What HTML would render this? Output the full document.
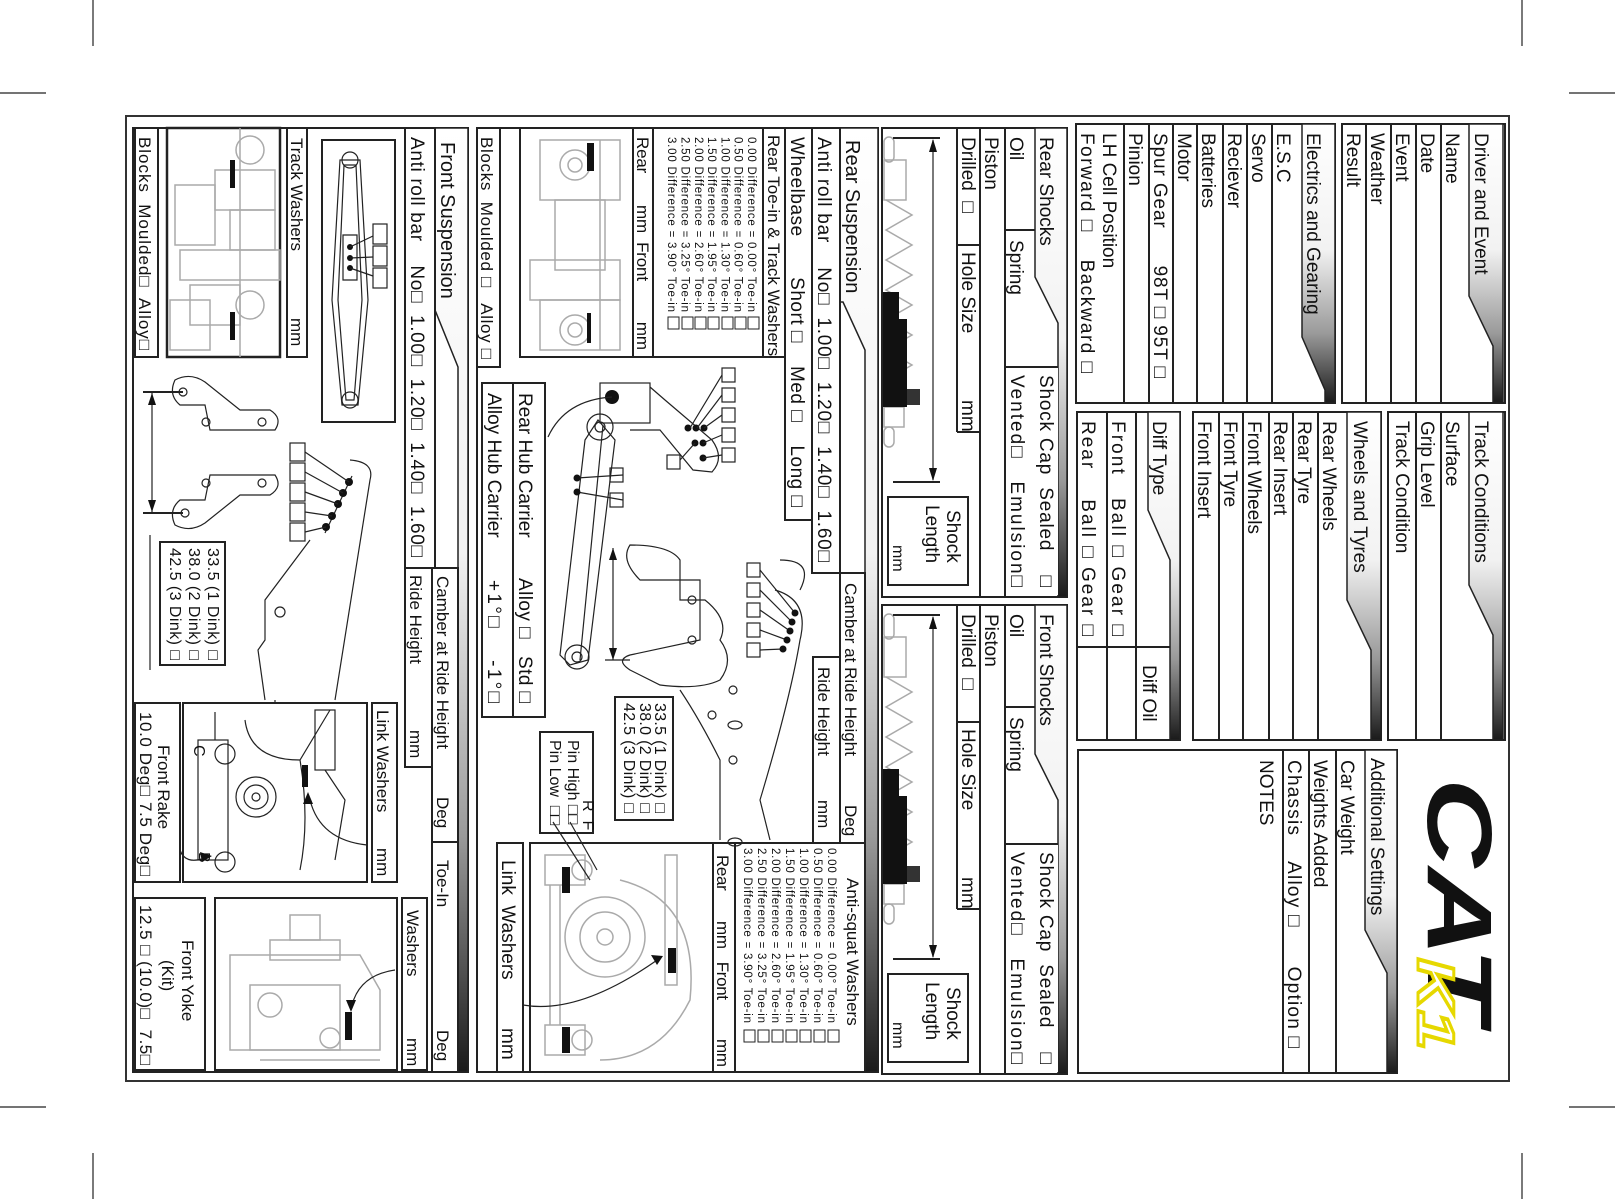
<!DOCTYPE html>
<html><head><meta charset="utf-8"><style>
html,body{margin:0;padding:0;background:#fff}
svg{display:block}
text{font-family:"Liberation Sans",Arial,"DejaVu Sans",sans-serif;font-size:19px;fill:#111;white-space:pre}
.s,.s text{font-size:17px}.xs text{font-size:11.5px}.m,.m text{font-size:16px}
.b{fill:#fff;stroke:#222;stroke-width:2}
.l{stroke:#222;stroke-width:2;fill:none}
.g{stroke:#aaa;stroke-width:1.5;fill:none}
.d{stroke:#222;stroke-width:1.2;fill:none}
</style></head><body>
<svg width="1615" height="1199" viewBox="0 0 1615 1199" xmlns="http://www.w3.org/2000/svg">
<defs>
<linearGradient id="hg" x1="0" y1="0" x2="0" y2="1">
<stop offset="0" stop-color="#fff"/><stop offset="0.45" stop-color="#f2f2f2"/><stop offset="0.75" stop-color="#9a9a9a"/><stop offset="1" stop-color="#1a1a1a"/></linearGradient>
</defs>
<g stroke="#222" stroke-width="1.2">
<line x1="93" y1="0" x2="93" y2="46"/><line x1="0" y1="93" x2="46" y2="93"/>
<line x1="1522" y1="0" x2="1522" y2="46"/><line x1="1569" y1="93" x2="1615" y2="93"/>
<line x1="93" y1="1153" x2="93" y2="1199"/><line x1="0" y1="1107" x2="46" y2="1107"/>
<line x1="1522" y1="1153" x2="1522" y2="1199"/><line x1="1569" y1="1107" x2="1615" y2="1107"/>
</g>
<rect x="126" y="116" width="1383" height="965" fill="none" stroke="#333" stroke-width="2"/>

<!-- Driver and Event -->
<rect class="b" x="1342" y="124" width="163" height="279"/>
<polygon points="1469,124 1503,124 1503,403 1493,403 1493,346 1469,296" fill="url(#hg)" stroke="#222" stroke-width="1.5"/>
<g class="l"><line x1="1366" y1="124" x2="1366" y2="403"/><line x1="1391" y1="124" x2="1391" y2="403"/><line x1="1416" y1="124" x2="1416" y2="403"/><line x1="1441" y1="124" x2="1441" y2="403"/></g>
<text transform="translate(1475,133) rotate(90)">Driver and Event</text>
<text transform="translate(1446,133) rotate(90)">Name</text>
<text transform="translate(1421,133) rotate(90)">Date</text>
<text transform="translate(1396,133) rotate(90)">Event</text>
<text transform="translate(1371,133) rotate(90)">Weather</text>
<text transform="translate(1347,133) rotate(90)">Result</text>

<!-- Track Conditions -->
<rect class="b" x="1388" y="412" width="117" height="328"/>
<polygon points="1469,412 1503,412 1503,740 1493,740 1493,635 1469,585" fill="url(#hg)" stroke="#222" stroke-width="1.5"/>
<g class="l"><line x1="1416" y1="412" x2="1416" y2="740"/><line x1="1441" y1="412" x2="1441" y2="740"/></g>
<text transform="translate(1475,421) rotate(90)">Track Conditions</text>
<text transform="translate(1446,421) rotate(90)">Surface</text>
<text transform="translate(1421,421) rotate(90)">Grip Level</text>
<text transform="translate(1396,421) rotate(90)">Track Condition</text>

<!-- Electrics -->
<rect class="b" x="1076" y="124" width="259" height="279"/>
<polygon points="1302,124 1335,124 1335,403 1325,403 1325,390 1302,337" fill="url(#hg)" stroke="#222" stroke-width="1.5"/>
<g class="l"><line x1="1124" y1="124" x2="1124" y2="403"/><line x1="1149" y1="124" x2="1149" y2="403"/><line x1="1173" y1="124" x2="1173" y2="403"/><line x1="1197" y1="124" x2="1197" y2="403"/><line x1="1223" y1="124" x2="1223" y2="403"/><line x1="1247" y1="124" x2="1247" y2="403"/><line x1="1272" y1="124" x2="1272" y2="403"/></g>
<text transform="translate(1307,133) rotate(90)">Electrics and Gearing</text>
<text transform="translate(1277,133) rotate(90)">E.S.C</text>
<text transform="translate(1252,133) rotate(90)">Servo</text>
<text transform="translate(1228,133) rotate(90)">Reciever</text>
<text transform="translate(1202,133) rotate(90)">Batteries</text>
<text transform="translate(1178,133) rotate(90)">Motor</text>
<text transform="translate(1154,133) rotate(90)" textLength="245" lengthAdjust="spacing">Spur Gear      98T □ 95T □</text>
<text transform="translate(1129,133) rotate(90)">Pinion</text>
<text transform="translate(1103,133) rotate(90)">LH Cell Position</text>
<text transform="translate(1081,133) rotate(90)" textLength="240" lengthAdjust="spacing">Forward □    Backward □</text>

<!-- Wheels -->
<rect class="b" x="1193" y="412" width="188" height="328"/>
<polygon points="1347,412 1381,412 1381,740 1371,740 1371,650 1347,600" fill="url(#hg)" stroke="#222" stroke-width="1.5"/>
<g class="l"><line x1="1219" y1="412" x2="1219" y2="740"/><line x1="1243" y1="412" x2="1243" y2="740"/><line x1="1269" y1="412" x2="1269" y2="740"/><line x1="1293" y1="412" x2="1293" y2="740"/><line x1="1318" y1="412" x2="1318" y2="740"/></g>
<text transform="translate(1354,421) rotate(90)">Wheels and Tyres</text>
<text transform="translate(1323,421) rotate(90)">Rear Wheels</text>
<text transform="translate(1298,421) rotate(90)">Rear Tyre</text>
<text transform="translate(1274,421) rotate(90)">Rear Insert</text>
<text transform="translate(1248,421) rotate(90)">Front Wheels</text>
<text transform="translate(1224,421) rotate(90)">Front Tyre</text>
<text transform="translate(1198,421) rotate(90)">Front Insert</text>

<!-- Diff -->
<rect class="b" x="1077" y="412" width="103" height="328"/>
<polygon points="1148,412 1180,412 1180,740 1170,740 1170,560 1148,510" fill="url(#hg)" stroke="#222" stroke-width="1.5"/>
<g class="l"><line x1="1107" y1="412" x2="1107" y2="740"/><line x1="1136" y1="412" x2="1136" y2="740"/><line x1="1077" y1="647" x2="1170" y2="647"/></g>
<text transform="translate(1153,421) rotate(90)">Diff Type</text>
<text transform="translate(1143,665) rotate(90)">Diff Oil</text>
<text transform="translate(1112,421) rotate(90)" textLength="215" lengthAdjust="spacing">Front   Ball □ Gear □</text>
<text transform="translate(1082,421) rotate(90)" textLength="215" lengthAdjust="spacing">Rear    Ball □ Gear □</text>

<!-- Additional -->
<rect class="b" x="1078" y="750" width="319" height="323"/>
<polygon points="1365,750 1397,750 1397,1073 1387,1073 1387,973 1365,930" fill="url(#hg)" stroke="#222" stroke-width="1.5"/>
<g class="l"><line x1="1283" y1="750" x2="1283" y2="1073"/><line x1="1309" y1="750" x2="1309" y2="1073"/><line x1="1336" y1="750" x2="1336" y2="1073"/></g>
<text transform="translate(1371,758) rotate(90)">Additional Settings</text>
<text transform="translate(1341,760) rotate(90)">Car Weight</text>
<text transform="translate(1314,760) rotate(90)">Weights Added</text>
<text transform="translate(1288,760) rotate(90)" textLength="288" lengthAdjust="spacing">Chassis    Alloy □      Option □</text>
<text transform="translate(1260,760) rotate(90)">NOTES</text>

<!-- logo -->
<g transform="translate(1428,778) rotate(90)">
<text x="0" y="0" textLength="245" lengthAdjust="spacingAndGlyphs" style="font-size:92px;font-weight:bold;font-style:italic;fill:#111;stroke:#fff;stroke-width:3;paint-order:stroke">CAT</text>
</g>
<g transform="translate(1418,958) rotate(90)">
<text x="0" y="0" textLength="92" lengthAdjust="spacingAndGlyphs" style="font-size:52px;font-weight:bold;font-style:italic;fill:#fff;stroke:#e6d800;stroke-width:3">K1</text>
</g>

<!-- Shocks -->
<g>
<rect class="b" x="882" y="128" width="185" height="469"/>
<polygon points="1035,128 1067,128 1067,597 1058,597 1058,323 1035,277" fill="url(#hg)" stroke="#222" stroke-width="1.5"/>
<rect x="1005" y="367" width="53" height="228" fill="#fff"/>
<g class="l"><line x1="1005" y1="128" x2="1005" y2="597"/><line x1="980" y1="128" x2="980" y2="597"/><line x1="957" y1="128" x2="957" y2="432"/><line x1="957" y1="432" x2="980" y2="432"/><line x1="1005" y1="230" x2="1035" y2="230"/><line x1="1005" y1="367" x2="1058" y2="367"/><line x1="957" y1="245" x2="980" y2="245"/></g>
<text transform="translate(1040,137) rotate(90)">Rear Shocks</text>
<text transform="translate(1010,137) rotate(90)">Oil</text>
<text transform="translate(1010,240) rotate(90)">Spring</text>
<text transform="translate(985,137) rotate(90)">Piston</text>
<text transform="translate(962,137) rotate(90)">Drilled  □</text>
<text transform="translate(962,252) rotate(90)">Hole Size</text>
<text transform="translate(962,400) rotate(90)">mm</text>
<text transform="translate(1040,375) rotate(90)" textLength="212" lengthAdjust="spacing">Shock Cap  Sealed    □</text>
<text transform="translate(1011,375) rotate(90)" textLength="212" lengthAdjust="spacing">Vented□   Emulsion□</text>
<g class="g" stroke="#888">
<rect x="884" y="137" width="10" height="25" rx="5"/>
<rect x="884" y="160" width="22" height="40"/>
<path d="M886 200 L912 215 L886 230 L912 245 L886 260 L912 275 L886 290 L912 305 L886 320 L912 335 L886 350 L912 365 L886 380"/>
<rect x="884" y="407" width="20" height="20"/>
<rect x="884" y="427" width="10" height="20" rx="5"/>
</g>
<rect x="883" y="292" width="16" height="27" fill="#111"/>
<rect x="883" y="319" width="24" height="88" fill="#111"/>
<rect x="907" y="389" width="13" height="16" fill="#333"/>
<line x1="893" y1="138" x2="940" y2="138" class="l"/><line x1="893" y1="482" x2="940" y2="482" class="l"/>
<line x1="933" y1="140" x2="933" y2="480" class="d"/>
<polygon points="933,139 929,152 937,152" fill="#111"/><polygon points="933,481 929,468 937,468" fill="#111"/>
<rect class="b" x="888" y="497" width="80" height="88" stroke-width="1.5"/>
<text transform="translate(947,510) rotate(90)">Shock</text>
<text transform="translate(926,505) rotate(90)">Length</text>
<text transform="translate(893,545) rotate(90)" class="m">mm</text>
</g>
<g transform="translate(0,477)">
<rect class="b" x="882" y="128" width="185" height="469"/>
<polygon points="1035,128 1067,128 1067,597 1058,597 1058,323 1035,277" fill="url(#hg)" stroke="#222" stroke-width="1.5"/>
<rect x="1005" y="367" width="53" height="228" fill="#fff"/>
<g class="l"><line x1="1005" y1="128" x2="1005" y2="597"/><line x1="980" y1="128" x2="980" y2="597"/><line x1="957" y1="128" x2="957" y2="432"/><line x1="957" y1="432" x2="980" y2="432"/><line x1="1005" y1="230" x2="1035" y2="230"/><line x1="1005" y1="367" x2="1058" y2="367"/><line x1="957" y1="245" x2="980" y2="245"/></g>
<text transform="translate(1040,137) rotate(90)">Front Shocks</text>
<text transform="translate(1010,137) rotate(90)">Oil</text>
<text transform="translate(1010,240) rotate(90)">Spring</text>
<text transform="translate(985,137) rotate(90)">Piston</text>
<text transform="translate(962,137) rotate(90)">Drilled  □</text>
<text transform="translate(962,252) rotate(90)">Hole Size</text>
<text transform="translate(962,400) rotate(90)">mm</text>
<text transform="translate(1040,375) rotate(90)" textLength="212" lengthAdjust="spacing">Shock Cap  Sealed    □</text>
<text transform="translate(1011,375) rotate(90)" textLength="212" lengthAdjust="spacing">Vented□   Emulsion□</text>
<g class="g" stroke="#888">
<rect x="884" y="137" width="10" height="25" rx="5"/>
<rect x="884" y="160" width="22" height="40"/>
<path d="M886 200 L912 215 L886 230 L912 245 L886 260 L912 275 L886 290 L912 305 L886 320 L912 335 L886 350 L912 365 L886 380"/>
<rect x="884" y="407" width="20" height="20"/>
<rect x="884" y="427" width="10" height="20" rx="5"/>
</g>
<rect x="883" y="292" width="16" height="27" fill="#111"/>
<rect x="883" y="319" width="24" height="88" fill="#111"/>
<rect x="907" y="389" width="13" height="16" fill="#333"/>
<line x1="893" y1="138" x2="940" y2="138" class="l"/><line x1="893" y1="482" x2="940" y2="482" class="l"/>
<line x1="933" y1="140" x2="933" y2="480" class="d"/>
<polygon points="933,139 929,152 937,152" fill="#111"/><polygon points="933,481 929,468 937,468" fill="#111"/>
<rect class="b" x="888" y="497" width="80" height="88" stroke-width="1.5"/>
<text transform="translate(947,510) rotate(90)">Shock</text>
<text transform="translate(926,505) rotate(90)">Length</text>
<text transform="translate(893,545) rotate(90)" class="m">mm</text>
</g>

<!-- Rear Suspension -->
<rect class="b" x="477" y="128" width="401" height="944"/>
<polygon points="840,128 878,128 878,1072 865,1072 865,350 843,302 840,302" fill="url(#hg)" stroke="#222" stroke-width="1.5"/>
<text transform="translate(846,140) rotate(90)" style="font-size:20px">Rear Suspension</text>
<rect class="b" x="812" y="128" width="28" height="445"/>
<text transform="translate(818,137) rotate(90)" textLength="425" lengthAdjust="spacing">Anti roll bar    No□  1.00□  1.20□  1.40□  1.60□</text>
<rect class="b" x="785" y="128" width="27" height="392"/>
<text transform="translate(791,137) rotate(90)" textLength="370" lengthAdjust="spacing">Wheelbase       Short □    Med □    Long □</text>
<rect class="b" x="520" y="128" width="265" height="229"/>
<g class="l"><line x1="763" y1="128" x2="763" y2="357"/><line x1="653" y1="128" x2="653" y2="357"/><line x1="633" y1="128" x2="633" y2="357"/></g>
<text transform="translate(768,135) rotate(90)" class="s">Rear Toe-in &amp; Track Washers</text>
<g class="xs">
<text transform="translate(748,137) rotate(90)" textLength="175">0.00 Difference = 0.00° Toe-in</text>
<text transform="translate(734.7,137) rotate(90)" textLength="175">0.50 Difference = 0.60° Toe-in</text>
<text transform="translate(721.4,137) rotate(90)" textLength="175">1.00 Difference = 1.30° Toe-in</text>
<text transform="translate(708.1,137) rotate(90)" textLength="175">1.50 Difference = 1.95° Toe-in</text>
<text transform="translate(694.8,137) rotate(90)" textLength="175">2.00 Difference = 2.60° Toe-in</text>
<text transform="translate(681.5,137) rotate(90)" textLength="175">2.50 Difference = 3.25° Toe-in</text>
<text transform="translate(668.2,137) rotate(90)" textLength="175">3.00 Difference = 3.90° Toe-in</text>
</g>
<g fill="none" stroke="#222" stroke-width="1">
<rect x="748" y="317" width="11" height="12"/><rect x="735" y="317" width="11" height="12"/><rect x="722" y="317" width="11" height="12"/><rect x="708" y="317" width="11" height="12"/><rect x="695" y="317" width="11" height="12"/><rect x="682" y="317" width="11" height="12"/><rect x="668" y="317" width="11" height="12"/>
</g>
<text transform="translate(637,137) rotate(90)" class="s" textLength="213" lengthAdjust="spacing">Rear       mm  Front         mm</text>
<g class="g">
<rect x="540" y="140" width="80" height="60"/><circle cx="575" cy="165" r="15"/><circle cx="575" cy="165" r="7"/>
<rect x="555" y="200" width="50" height="70"/><rect x="530" y="260" width="90" height="40"/>
<rect x="540" y="300" width="80" height="50"/><circle cx="575" cy="330" r="15"/><circle cx="575" cy="330" r="7"/>
<line x1="600" y1="140" x2="600" y2="350"/>
</g>
<rect x="587" y="143" width="7" height="28" fill="#111"/><rect x="587" y="313" width="4" height="30" fill="#111"/>
<rect class="b" x="477" y="128" width="23" height="239"/>
<text transform="translate(481,137) rotate(90)" class="s" textLength="222" lengthAdjust="spacing">Blocks  Moulded □   Alloy □</text>
<rect class="b" x="482" y="383" width="63" height="334"/>
<line class="l" x1="513" y1="383" x2="513" y2="717"/>
<text transform="translate(519,393) rotate(90)">Rear Hub Carrier</text>
<text transform="translate(519,578) rotate(90)" textLength="125" lengthAdjust="spacing">Alloy □   Std □</text>
<text transform="translate(488,393) rotate(90)">Alloy Hub Carrier</text>
<text transform="translate(488,580) rotate(90)" textLength="123" lengthAdjust="spacing">+1°□    -1°□</text>
<rect class="b" x="840" y="573" width="25" height="270"/>
<text transform="translate(845,583) rotate(90)" class="s">Camber at Ride Height</text>
<text transform="translate(845,805) rotate(90)" class="s">Deg</text>
<rect class="b" x="813" y="657" width="27" height="186"/>
<text transform="translate(818,667) rotate(90)" class="s">Ride Height</text>
<text transform="translate(818,800) rotate(90)" class="s">mm</text>
<rect class="b" x="713" y="843" width="152" height="229"/>
<line class="l" x1="735" y1="843" x2="735" y2="1072"/>
<text transform="translate(847,878) rotate(90)" class="s">Anti-squat Washers</text>
<g class="xs">
<text transform="translate(828,848) rotate(90)" textLength="175">0.00 Difference = 0.00° Toe-in</text>
<text transform="translate(814,848) rotate(90)" textLength="175">0.50 Difference = 0.60° Toe-in</text>
<text transform="translate(800,848) rotate(90)" textLength="175">1.00 Difference = 1.30° Toe-in</text>
<text transform="translate(786,848) rotate(90)" textLength="175">1.50 Difference = 1.95° Toe-in</text>
<text transform="translate(772,848) rotate(90)" textLength="175">2.00 Difference = 2.60° Toe-in</text>
<text transform="translate(758,848) rotate(90)" textLength="175">2.50 Difference = 3.25° Toe-in</text>
<text transform="translate(744,848) rotate(90)" textLength="175">3.00 Difference = 3.90° Toe-in</text>
</g>
<g fill="none" stroke="#222" stroke-width="1">
<rect x="828" y="1030" width="11" height="12"/><rect x="814" y="1030" width="11" height="12"/><rect x="800" y="1030" width="11" height="12"/><rect x="786" y="1030" width="11" height="12"/><rect x="772" y="1030" width="11" height="12"/><rect x="758" y="1030" width="11" height="12"/><rect x="744" y="1030" width="11" height="12"/>
</g>
<text transform="translate(717,855) rotate(90)" class="s" textLength="212" lengthAdjust="spacing">Rear       mm   Front         mm</text>
<rect class="b" x="530" y="843" width="183" height="229"/>
<g class="g">
<circle cx="605" cy="937" r="40"/><circle cx="605" cy="937" r="25"/><circle cx="605" cy="937" r="8"/>
<rect x="545" y="855" width="40" height="30"/><rect x="545" y="1025" width="40" height="30"/>
<line x1="550" y1="885" x2="550" y2="1025"/><line x1="560" y1="885" x2="560" y2="1025"/>
<rect x="665" y="855" width="12" height="130"/><path d="M620 880 Q700 900 690 1000 Q660 1060 600 1060"/>
<circle cx="582" cy="870" r="10"/><circle cx="582" cy="1040" r="10"/>
</g>
<rect x="562" y="867" width="8" height="26" fill="#111"/><rect x="562" y="1027" width="8" height="26" fill="#111"/><rect x="668" y="948" width="8" height="25" fill="#111"/>
<path class="d" d="M523 1005 Q580 1015 660 958" /><polygon points="663,956 651,955 657,965" fill="#111"/>
<rect class="b" x="497" y="843" width="26" height="229"/>
<text transform="translate(502,860) rotate(90)">Link  Washers</text>
<text transform="translate(502,1028) rotate(90)">mm</text>
<rect class="b" x="540" y="732" width="53" height="101"/>
<text transform="translate(568,740) rotate(90)" class="m">Pin High □□</text>
<text transform="translate(550,740) rotate(90)" class="m">Pin Low  □□</text>
<text transform="translate(583,800) rotate(90)" class="m">R  F</text>
<line class="d" x1="553" y1="822" x2="590" y2="880"/><line class="d" x1="570" y1="822" x2="597" y2="870"/>
<rect class="b" x="615" y="697" width="58" height="123"/>
<text transform="translate(655,703) rotate(90)" class="m" textLength="110" lengthAdjust="spacing">33.5 (1 Dink) □</text>
<text transform="translate(640,703) rotate(90)" class="m" textLength="110" lengthAdjust="spacing">38.0 (2 Dink) □</text>
<text transform="translate(624,703) rotate(90)" class="m" textLength="110" lengthAdjust="spacing">42.5 (3 Dink) □</text>
<rect class="d" x="600" y="383" width="50" height="40"/>
<circle cx="612" cy="397" r="7" fill="#111"/>
<path class="d" d="M612 397 Q565 400 548 437"/>
<path class="d" d="M650 387 L665 400 L712 440 Q725 458 712 472 L693 470 L660 430 L630 430"/>
<g fill="#111"><circle cx="688" cy="428" r="3.5"/><circle cx="696" cy="428" r="3.5"/><circle cx="704" cy="428" r="3.5"/><circle cx="695" cy="443" r="3.5"/><circle cx="703" cy="443" r="3.5"/><circle cx="703" cy="458" r="3.5"/></g>
<g fill="#fff" stroke="#222" stroke-width="1.2">
<rect x="722" y="368" width="13" height="14"/><rect x="722" y="388" width="13" height="14"/><rect x="722" y="408" width="13" height="14"/><rect x="722" y="428" width="13" height="14"/><rect x="722" y="448" width="13" height="14"/><rect x="667" y="455" width="13" height="14"/>
<rect x="610" y="468" width="13" height="14"/><rect x="610" y="493" width="13" height="14"/>
<rect x="747" y="563" width="13" height="14"/><rect x="747" y="583" width="13" height="14"/><rect x="747" y="603" width="13" height="14"/><rect x="747" y="623" width="13" height="14"/><rect x="747" y="643" width="13" height="14"/>
</g>
<g class="d"><line x1="722" y1="375" x2="690" y2="428"/><line x1="722" y1="395" x2="697" y2="428"/><line x1="722" y1="415" x2="704" y2="428"/><line x1="722" y1="435" x2="703" y2="443"/><line x1="722" y1="455" x2="703" y2="458"/><line x1="680" y1="460" x2="695" y2="443"/>
<line x1="623" y1="475" x2="577" y2="478"/><line x1="623" y1="500" x2="577" y2="492"/>
<line x1="760" y1="570" x2="795" y2="613"/><line x1="760" y1="590" x2="792" y2="622"/><line x1="760" y1="610" x2="790" y2="631"/><line x1="760" y1="630" x2="787" y2="640"/><line x1="760" y1="650" x2="783" y2="649"/></g>
<path class="d" d="M598 420 L615 440 L588 660 L570 665 L560 655 L585 440 Z"/>
<path class="d" d="M603 425 L580 660" stroke="#555"/>
<circle cx="600" cy="427" r="13" class="d"/><circle cx="600" cy="427" r="5" class="d"/>
<circle cx="577" cy="657" r="12" class="d"/><circle cx="577" cy="657" r="5" class="d"/>
<g fill="#111"><circle cx="577" cy="478" r="3.5"/><circle cx="577" cy="492" r="3.5"/><circle cx="795" cy="613" r="3.5"/><circle cx="792" cy="622" r="3.5"/><circle cx="790" cy="631" r="3.5"/><circle cx="787" cy="640" r="3.5"/><circle cx="783" cy="649" r="3.5"/></g>
<path class="d" d="M630 545 Q670 545 680 560 L680 600 L705 600 Q730 620 720 640 Q735 660 720 680 Q700 690 660 685 L630 670 Q615 660 630 655 L700 640 L700 580 L640 580 Q620 560 630 545 Z"/>
<path class="d" d="M775 590 Q810 600 800 640 Q790 700 760 800 L770 840 M680 690 Q700 720 720 760 L720 840 M800 590 Q815 560 780 560"/>
<g class="d"><circle cx="692" cy="600" r="4"/><circle cx="692" cy="640" r="4"/><circle cx="733" cy="690" r="4"/><circle cx="712" cy="715" r="4"/><circle cx="733" cy="760" r="4"/><ellipse cx="735" cy="725" rx="7" ry="4"/><ellipse cx="735" cy="842" rx="7" ry="4"/></g>
<line class="d" x1="613" y1="548" x2="613" y2="660"/>
<polygon points="613,548 609,560 617,560" fill="#111"/><polygon points="613,660 609,648 617,648" fill="#111"/>
<line class="d" x1="605" y1="660" x2="630" y2="660"/>

<!-- Front Suspension -->
<rect class="b" x="133" y="128" width="335" height="944"/>
<polygon points="435,128 468,128 468,1072 458,1072 458,367 435,310" fill="url(#hg)" stroke="#222" stroke-width="1.5"/>
<text transform="translate(441,142) rotate(90)" style="font-size:20px">Front Suspension</text>
<rect class="b" x="405" y="128" width="30" height="440"/>
<text transform="translate(411,137) rotate(90)" textLength="420" lengthAdjust="spacing">Anti roll bar    No□  1.00□  1.20□  1.40□  1.60□</text>
<rect class="b" x="432" y="568" width="26" height="274"/>
<rect class="b" x="432" y="842" width="26" height="230"/>
<text transform="translate(437,576) rotate(90)" class="s">Camber at Ride Height</text>
<text transform="translate(437,797) rotate(90)" class="s">Deg</text>
<text transform="translate(437,860) rotate(90)" class="s">Toe-In</text>
<text transform="translate(437,1030) rotate(90)" class="s">Deg</text>
<rect class="b" x="405" y="568" width="27" height="199"/>
<text transform="translate(410,575) rotate(90)" class="s">Ride Height</text>
<text transform="translate(410,730) rotate(90)" class="s">mm</text>
<rect class="b" x="322" y="140" width="73" height="282"/>
<path class="d" d="M340 160 L360 160 L368 300 L358 405 L342 405 L332 300 Z"/>
<path class="d" d="M344 165 L356 165 L362 300 L354 400 L346 400 L338 300 Z"/>
<circle class="d" cx="350" cy="160" r="8"/><circle class="d" cx="350" cy="400" r="8"/>
<path class="d" d="M343 235 L357 235 L357 280 L343 280 Z"/>
<g fill="#111"><circle cx="350" cy="247" r="3"/><circle cx="350" cy="258" r="3"/><circle cx="350" cy="268" r="3"/></g>
<g fill="#fff" stroke="#222" stroke-width="1.2"><rect x="373" y="224" width="14" height="20"/><rect x="373" y="246" width="14" height="20"/><rect x="373" y="268" width="14" height="20"/></g>
<g class="d"><line x1="373" y1="236" x2="350" y2="247"/><line x1="373" y1="257" x2="350" y2="258"/><line x1="373" y1="276" x2="350" y2="268"/></g>
<rect class="b" x="287" y="128" width="20" height="229"/>
<text transform="translate(291,138) rotate(90)" class="s">Track Washers</text>
<text transform="translate(291,318) rotate(90)" class="s">mm</text>
<rect x="167" y="128" width="113" height="229" fill="#fff" stroke="#222" stroke-width="2.5"/>
<g class="g">
<circle cx="250" cy="150" r="14"/><rect x="215" y="170" width="60" height="40"/><rect x="175" y="185" width="40" height="60"/>
<rect x="230" y="210" width="45" height="40"/><rect x="180" y="250" width="100" height="30"/><rect x="190" y="285" width="50" height="40"/>
<circle cx="250" cy="305" r="14"/><line x1="240" y1="128" x2="240" y2="357"/><rect x="170" y="300" width="40" height="50"/>
</g>
<rect x="230" y="160" width="5" height="28" fill="#111"/><rect x="230" y="312" width="5" height="28" fill="#111"/>
<rect class="b" x="135" y="128" width="23" height="229"/>
<text transform="translate(139,137) rotate(90)" class="s" textLength="213" lengthAdjust="spacing">Blocks  Moulded□  Alloy□</text>
<path class="d" d="M175 380 Q168 395 180 405 L205 405 L210 430 L275 430 Q283 418 270 410 L240 410 L205 382 Q190 372 175 380 Z"/>
<path class="d" d="M175 525 Q168 510 180 500 L205 500 L210 475 L275 475 Q283 487 270 495 L240 495 L205 523 Q190 533 175 525 Z"/>
<g class="d"><circle cx="183" cy="392" r="4"/><circle cx="206" cy="422" r="4"/><circle cx="262" cy="422" r="4"/><circle cx="206" cy="483" r="4"/><circle cx="262" cy="483" r="4"/><circle cx="185" cy="513" r="4"/></g>
<line class="l" x1="143" y1="392" x2="183" y2="392"/><line class="l" x1="143" y1="513" x2="183" y2="513"/>
<line class="d" x1="152" y1="393" x2="152" y2="512"/>
<polygon points="152,393 148,405 156,405" fill="#111"/><polygon points="152,512 148,500 156,500" fill="#111"/>
<line class="d" x1="150" y1="535" x2="150" y2="670"/>
<path class="d" d="M350 460 Q375 462 370 480 L335 700 M310 540 L265 600 L265 640 L258 650 L265 700 M275 700 L275 720"/>
<circle class="d" cx="280" cy="612" r="5"/>
<path class="d" d="M352 476 L325 533"/>
<g fill="#111"><circle cx="349" cy="482" r="4"/><circle cx="343" cy="493" r="4"/><circle cx="338" cy="504" r="4"/><circle cx="332" cy="516" r="4"/><circle cx="326" cy="527" r="4"/></g>
<g fill="#fff" stroke="#222" stroke-width="1.2"><rect x="290" y="443" width="15" height="18"/><rect x="290" y="463" width="15" height="18"/><rect x="290" y="483" width="15" height="18"/><rect x="290" y="503" width="15" height="18"/><rect x="290" y="523" width="15" height="18"/></g>
<g class="d"><line x1="305" y1="452" x2="349" y2="482"/><line x1="305" y1="472" x2="343" y2="493"/><line x1="305" y1="492" x2="338" y2="504"/><line x1="305" y1="512" x2="332" y2="516"/><line x1="305" y1="532" x2="326" y2="527"/></g>
<rect class="b" x="160" y="542" width="65" height="123"/>
<text transform="translate(208,548) rotate(90)" class="m" textLength="112" lengthAdjust="spacing">33.5 (1 Dink) □</text>
<text transform="translate(189,548) rotate(90)" class="m" textLength="112" lengthAdjust="spacing">38.0 (2 Dink) □</text>
<text transform="translate(170,548) rotate(90)" class="m" textLength="112" lengthAdjust="spacing">42.5 (3 Dink) □</text>
<rect class="b" x="372" y="703" width="25" height="179"/>
<text transform="translate(377,710) rotate(90)" class="s">Link Washers</text>
<text transform="translate(377,848) rotate(90)" class="s">mm</text>
<rect x="183" y="703" width="184" height="179" fill="#fff" stroke="#222" stroke-width="2"/>
<g class="d" stroke="#444">
<rect x="198" y="740" width="30" height="120"/><circle cx="225" cy="754" r="10"/><circle cx="225" cy="862" r="10"/>
<circle cx="256" cy="797" r="20"/><circle cx="256" cy="797" r="12"/><circle cx="256" cy="797" r="4"/>
<path d="M215 712 L215 740 M245 720 Q250 760 300 760 L330 710 M300 760 Q310 820 300 870"/>
<rect x="315" y="710" width="20" height="60"/><path d="M325 770 L345 800 L335 860"/>
</g>
<rect x="302" y="765" width="6" height="22" fill="#111"/>
<path class="d" d="M367 845 Q320 840 310 800"/><polygon points="308,792 303,804 313,804" fill="#111"/>
<path class="d" d="M180 850 Q185 865 205 858"/><polygon points="212,856 200,852 202,862" fill="#111"/>
<text transform="translate(194,745) rotate(90)" class="m">C</text><text transform="translate(199,852) rotate(90)" class="m">B</text>
<rect class="b" x="135" y="703" width="45" height="179"/>
<text transform="translate(158,745) rotate(90)" class="s">Front Rake</text>
<text transform="translate(140,712) rotate(90)" class="s" textLength="164" lengthAdjust="spacing">10.0 Deg□ 7.5 Deg□</text>
<rect class="b" x="402" y="898" width="25" height="172"/>
<text transform="translate(407,910) rotate(90)" class="s">Washers</text>
<text transform="translate(407,1038) rotate(90)" class="s">mm</text>
<rect x="215" y="898" width="182" height="172" fill="#fff" stroke="#222" stroke-width="2"/>
<g class="g" stroke="#999">
<rect x="290" y="915" width="30" height="25"/><rect x="270" y="940" width="70" height="20"/>
<path d="M230 955 L360 955 L380 990 L380 1050 L230 1050 Z"/><rect x="250" y="985" width="90" height="65"/>
<circle cx="270" cy="1005" r="12"/><circle cx="330" cy="1038" r="10"/><line x1="260" y1="1060" x2="380" y2="1060"/>
</g>
<rect x="345" y="1012" width="7" height="28" fill="#111"/>
<path class="d" d="M395 970 Q360 975 352 1005"/><polygon points="351,1012 346,1000 356,1000" fill="#111"/>
<rect class="b" x="135" y="898" width="70" height="172"/>
<text transform="translate(182,940) rotate(90)" class="s">Front Yoke</text>
<text transform="translate(162,960) rotate(90)" class="s">(Kit)</text>
<text transform="translate(140,905) rotate(90)" class="s" textLength="160" lengthAdjust="spacing">12.5 □ (10.0)□  7.5□</text>
</svg>
</body></html>
